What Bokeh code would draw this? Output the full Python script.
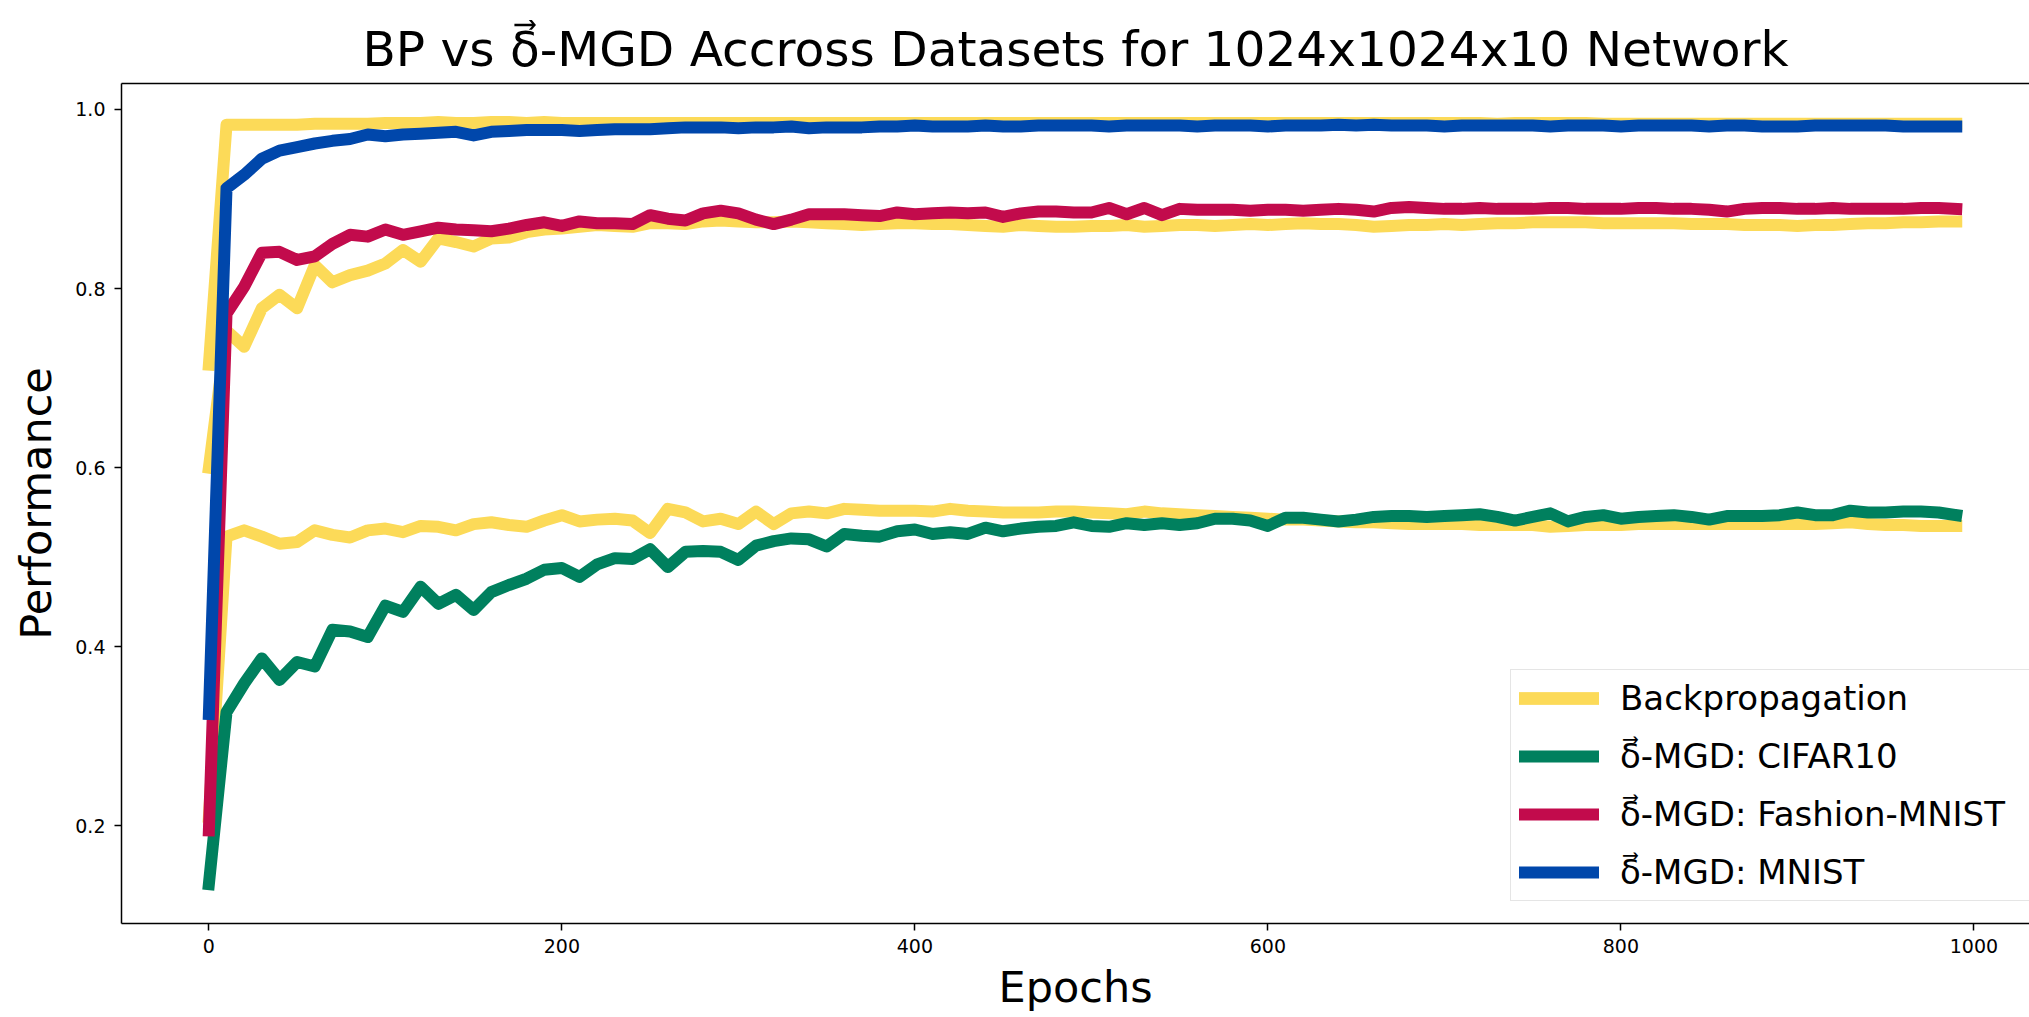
from bokeh.plotting import figure
from bokeh.models import (Range1d, LinearAxis, FixedTicker, Legend, LegendItem, Title,
                          PrintfTickFormatter)
from bokeh.embed import file_html
from bokeh.resources import INLINE

epochs = list(range(0, 1000, 10))

bp_mnist = [0.715, 0.983, 0.983, 0.983, 0.983, 0.983, 0.984, 0.984, 0.984, 0.984,
            0.985, 0.985, 0.985, 0.986, 0.985, 0.985, 0.986, 0.986, 0.985, 0.986,
            0.985, 0.985, 0.985, 0.985, 0.985, 0.985, 0.985, 0.985, 0.985, 0.985,
            0.985, 0.985, 0.985, 0.985, 0.985, 0.985, 0.985, 0.985, 0.985, 0.985,
            0.985, 0.985, 0.985, 0.985, 0.985, 0.985, 0.985, 0.985, 0.985, 0.985,
            0.985, 0.985, 0.985, 0.985, 0.985, 0.985, 0.985, 0.985, 0.985, 0.985,
            0.985, 0.985, 0.985, 0.985, 0.985, 0.985, 0.985, 0.985, 0.985, 0.985,
            0.985, 0.985, 0.985, 0.984, 0.985, 0.985, 0.985, 0.985, 0.985, 0.984,
            0.984, 0.984, 0.984, 0.984, 0.984, 0.984, 0.984, 0.984, 0.984, 0.984,
            0.984, 0.984, 0.984, 0.984, 0.984, 0.984, 0.984, 0.984, 0.984, 0.984]

bp_fashion = [0.600, 0.753, 0.735, 0.778, 0.793, 0.778, 0.826, 0.807, 0.815, 0.820,
              0.828, 0.843, 0.830, 0.856, 0.852, 0.847, 0.856, 0.857, 0.863, 0.866,
              0.867, 0.869, 0.871, 0.870, 0.869, 0.873, 0.873, 0.872, 0.875, 0.876,
              0.875, 0.874, 0.874, 0.875, 0.874, 0.873, 0.872, 0.871, 0.872, 0.873,
              0.873, 0.872, 0.872, 0.871, 0.870, 0.869, 0.871, 0.870, 0.869, 0.869,
              0.870, 0.870, 0.871, 0.869, 0.870, 0.871, 0.871, 0.870, 0.871, 0.872,
              0.871, 0.872, 0.873, 0.872, 0.872, 0.871, 0.869, 0.870, 0.871, 0.871,
              0.872, 0.871, 0.872, 0.873, 0.873, 0.874, 0.874, 0.874, 0.874, 0.873,
              0.873, 0.873, 0.873, 0.873, 0.872, 0.872, 0.872, 0.871, 0.871, 0.871,
              0.870, 0.871, 0.871, 0.872, 0.873, 0.873, 0.874, 0.874, 0.875, 0.875]

bp_cifar = [0.210, 0.523, 0.530, 0.523, 0.515, 0.517, 0.530, 0.525, 0.522, 0.530,
            0.532, 0.528, 0.535, 0.534, 0.530, 0.537, 0.539, 0.536, 0.534, 0.541,
            0.547, 0.540, 0.542, 0.543, 0.541, 0.527, 0.554, 0.550, 0.540, 0.543,
            0.537, 0.551, 0.537, 0.549, 0.551, 0.549, 0.554, 0.553, 0.552, 0.552,
            0.552, 0.551, 0.554, 0.552, 0.551, 0.550, 0.550, 0.550, 0.551, 0.551,
            0.550, 0.549, 0.548, 0.551, 0.549, 0.548, 0.547, 0.546, 0.545, 0.544,
            0.543, 0.542, 0.542, 0.541, 0.540, 0.539, 0.539, 0.538, 0.537, 0.537,
            0.537, 0.537, 0.536, 0.536, 0.536, 0.536, 0.534, 0.535, 0.536, 0.536,
            0.536, 0.537, 0.537, 0.537, 0.537, 0.537, 0.537, 0.537, 0.537, 0.537,
            0.537, 0.537, 0.538, 0.539, 0.537, 0.536, 0.536, 0.535, 0.535, 0.535]

mgd_cifar = [0.135, 0.327, 0.359, 0.387, 0.363, 0.383, 0.378, 0.419, 0.417, 0.411,
             0.446, 0.439, 0.467, 0.448, 0.458, 0.441, 0.461, 0.469, 0.476, 0.486,
             0.488, 0.478, 0.492, 0.499, 0.498, 0.509, 0.489, 0.506, 0.507, 0.506,
             0.497, 0.513, 0.518, 0.521, 0.520, 0.512, 0.526, 0.524, 0.523, 0.529,
             0.531, 0.526, 0.528, 0.526, 0.533, 0.529, 0.532, 0.534, 0.535, 0.539,
             0.535, 0.534, 0.538, 0.536, 0.538, 0.536, 0.538, 0.543, 0.543, 0.541,
             0.535, 0.544, 0.544, 0.542, 0.540, 0.542, 0.545, 0.546, 0.546, 0.545,
             0.546, 0.547, 0.548, 0.545, 0.541, 0.545, 0.549, 0.540, 0.545, 0.547,
             0.543, 0.545, 0.546, 0.547, 0.545, 0.542, 0.546, 0.546, 0.546, 0.547,
             0.550, 0.547, 0.547, 0.552, 0.550, 0.550, 0.551, 0.551, 0.550, 0.547]

mgd_fashion = [0.195, 0.772, 0.802, 0.840, 0.841, 0.832, 0.836, 0.850, 0.860, 0.858,
               0.866, 0.860, 0.864, 0.868, 0.866, 0.865, 0.864, 0.867, 0.871, 0.874,
               0.870, 0.875, 0.873, 0.873, 0.872, 0.882, 0.878, 0.876, 0.884, 0.887,
               0.884, 0.877, 0.872, 0.877, 0.883, 0.883, 0.883, 0.882, 0.881, 0.885,
               0.883, 0.884, 0.885, 0.884, 0.885, 0.880, 0.884, 0.886, 0.886, 0.885,
               0.885, 0.890, 0.883, 0.890, 0.882, 0.889, 0.888, 0.888, 0.888, 0.887,
               0.888, 0.888, 0.887, 0.888, 0.889, 0.888, 0.886, 0.890, 0.891, 0.890,
               0.889, 0.889, 0.890, 0.889, 0.889, 0.889, 0.890, 0.890, 0.889, 0.889,
               0.889, 0.890, 0.890, 0.889, 0.889, 0.888, 0.886, 0.889, 0.890, 0.890,
               0.889, 0.889, 0.890, 0.889, 0.889, 0.889, 0.889, 0.890, 0.890, 0.889]

mgd_mnist = [0.325, 0.912, 0.927, 0.945, 0.954, 0.958, 0.962, 0.965, 0.967, 0.972,
             0.970, 0.972, 0.973, 0.974, 0.975, 0.971, 0.975, 0.976, 0.977, 0.977,
             0.977, 0.976, 0.977, 0.978, 0.978, 0.978, 0.979, 0.980, 0.980, 0.980,
             0.979, 0.980, 0.980, 0.981, 0.979, 0.980, 0.980, 0.980, 0.981, 0.981,
             0.982, 0.981, 0.981, 0.981, 0.982, 0.981, 0.981, 0.982, 0.982, 0.982,
             0.982, 0.981, 0.982, 0.982, 0.982, 0.982, 0.981, 0.982, 0.982, 0.982,
             0.981, 0.982, 0.982, 0.982, 0.983, 0.982, 0.983, 0.982, 0.982, 0.982,
             0.981, 0.982, 0.982, 0.982, 0.982, 0.982, 0.981, 0.982, 0.982, 0.982,
             0.981, 0.982, 0.982, 0.982, 0.982, 0.981, 0.982, 0.982, 0.981, 0.981,
             0.981, 0.982, 0.982, 0.982, 0.982, 0.982, 0.981, 0.981, 0.981, 0.981]

x_ticks = [0, 200, 400, 600, 800, 1000]
y_ticks = [0.2, 0.4, 0.6, 0.8, 1.0]

YELLOW = "#FCDA58"
GREEN = "#00805E"
RED = "#C20B4C"
BLUE = "#0047AB"
FONT = "DejaVu Sans"

p = figure(width=2029, height=1017, output_backend="svg", toolbar_location=None,
           x_range=Range1d(-49.5, 1031.5), y_range=Range1d(0.091, 1.029),
           min_border_left=121, min_border_right=0, min_border_top=83, min_border_bottom=94)
p.outline_line_color = None
p.grid.visible = False
p.background_fill_color = "white"
p.border_fill_color = "white"

lw = 12
kw = dict(line_width=lw, line_cap="square", line_join="round")
r_bp1 = p.line(epochs, bp_mnist, color=YELLOW, **kw)
r_bp2 = p.line(epochs, bp_fashion, color=YELLOW, **kw)
r_bp3 = p.line(epochs, bp_cifar, color=YELLOW, **kw)
r_c = p.line(epochs, mgd_cifar, color=GREEN, **kw)
r_f = p.line(epochs, mgd_fashion, color=RED, **kw)
r_m = p.line(epochs, mgd_mnist, color=BLUE, **kw)

for ax in (p.xaxis[0], p.yaxis[0]):
    ax.axis_line_width = 1.5
    ax.axis_line_color = "black"
    ax.major_tick_line_color = "black"
    ax.major_tick_line_width = 1.5
    ax.major_tick_out = 7
    ax.major_tick_in = 0
    ax.minor_tick_line_color = None
    ax.major_label_text_font = FONT
    ax.major_label_text_font_size = "19px"
    ax.major_label_text_color = "black"

p.xaxis[0].ticker = FixedTicker(ticks=x_ticks)
p.yaxis[0].ticker = FixedTicker(ticks=y_ticks)
p.yaxis[0].formatter = PrintfTickFormatter(format="%.1f")
p.xaxis[0].major_label_standoff = 8
p.yaxis[0].major_label_standoff = 9

p.yaxis[0].axis_label = "Performance"
p.yaxis[0].axis_label_text_font = FONT
p.yaxis[0].axis_label_text_font_size = "43px"
p.yaxis[0].axis_label_text_font_style = "normal"
p.yaxis[0].axis_label_text_color = "black"
p.yaxis[0].axis_label_standoff = 11

top_axis = LinearAxis(ticker=FixedTicker(ticks=[]), major_label_text_font_size="0px",
                      major_tick_out=0, major_tick_in=0, minor_tick_out=0, minor_tick_in=0,
                      axis_line_width=1.5, axis_line_color="black")
p.add_layout(top_axis, "above")

p.title.text = "BP vs \u03b4\u20d7-MGD Accross Datasets for 1024x1024x10 Network"
p.title.text_font = FONT
p.title.text_font_size = "48.6px"
p.title.text_font_style = "normal"
p.title.text_color = "black"
p.title.align = "center"
p.title.offset = 23
p.title.standoff = 13

xlabel = Title(text="Epochs", text_font=FONT, text_font_size="43px", text_font_style="normal",
               text_color="black", align="center", offset=17, standoff=9)
p.add_layout(xlabel, "below")

legend = Legend(items=[
    LegendItem(label="Backpropagation", renderers=[r_bp1, r_bp2, r_bp3]),
    LegendItem(label="\u03b4\u20d7-MGD: CIFAR10", renderers=[r_c]),
    LegendItem(label="\u03b4\u20d7-MGD: Fashion-MNIST", renderers=[r_f]),
    LegendItem(label="\u03b4\u20d7-MGD: MNIST", renderers=[r_m]),
], location=(1389, 22))
legend.label_text_font = FONT
legend.label_text_font_size = "34px"
legend.label_text_color = "black"
legend.glyph_width = 80
legend.glyph_height = 40
legend.label_height = 40
legend.label_width = 440
legend.label_standoff = 21
legend.spacing = 18
legend.padding = 8
legend.margin = 0
legend.border_line_color = "#cccccc"
legend.border_line_width = 1.5
legend.background_fill_alpha = 0.8
p.add_layout(legend)

open("out.html", "w").write(file_html(p, INLINE))
